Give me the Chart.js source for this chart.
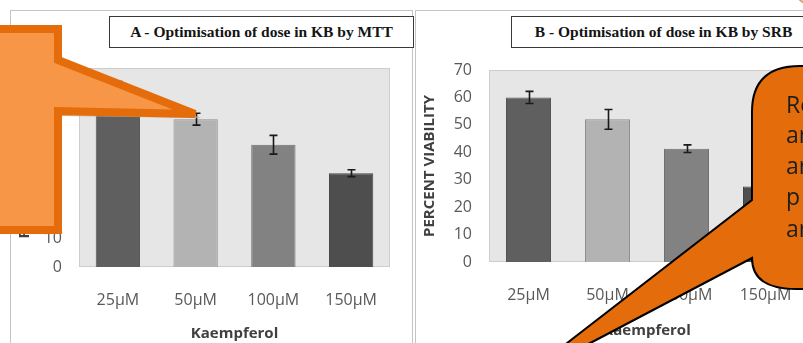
<!DOCTYPE html>
<html>
<head>
<meta charset="utf-8">
<script src="https://cdn.jsdelivr.net/npm/chart.js@4.4.1/dist/chart.umd.min.js"></script>
<style>
  html, body { margin: 0; padding: 0; background: #fff; overflow: hidden; }
  body { width: 803px; height: 343px; position: relative; }
  .panel { position: absolute; top: 10px; height: 340px; border-left: 1px solid #c4c4c4; border-top: 1px solid #c4c4c4; }
  .panel.a { left: 10px; width: 401px; border-right: 1px solid #c4c4c4; }
  .panel.b { left: 415px; width: 400px; }
  canvas { position: absolute; }
  .ttl { position: absolute; top: 16px; height: 32px; border: 1.5px solid #3a3a3a; background: #fff;
         font: bold 15.5px "Liberation Serif", "DejaVu Serif", serif; color: #141414;
         display: flex; align-items: center; justify-content: center; white-space: nowrap; box-sizing: border-box; }
  svg { position: absolute; left: 0; top: 0; }
</style>
</head>
<body>
<div class="panel a"></div>
<div class="panel b"></div>
<canvas id="chartA" width="400" height="332" style="left:11px; top:11px;"></canvas>
<canvas id="chartB" width="400" height="332" style="left:416px; top:11px;"></canvas>
<div class="ttl" style="left:109px; width:305px;">A - Optimisation of dose in KB by MTT</div>
<div class="ttl" style="left:511px; width:305px;">B - Optimisation of dose in KB by SRB</div>

<svg width="803" height="343" viewBox="0 0 803 343">
  <!-- callout arrow over panel A -->
  <path d="M -20 33 L 62 33 L 62 64 L 201 118 L 62 116 L 62 234 L -20 234 Z" fill="#c9a28c" opacity="0.8"/>
  <path d="M -20 29 L 58 29 L 58 60 L 195 114 L 58 111 L 58 230 L -20 230 Z" fill="#f79646" stroke="#e46c0a" stroke-width="8" stroke-linejoin="miter"/>
  <!-- speech bubble over panel B -->
  <path d="M 860 66 L 800 66 Q 752 66 752 112 L 752 200 L 518 381 L 752 258 Q 752 289 796 289 L 860 289 Z" fill="#e46c0a" stroke="#000" stroke-width="2"/>
  <g font-family="Open Sans, sans-serif" font-size="23" fill="#1e1e1e">
    <text x="786" y="113">Re</text>
    <text x="786" y="143">ar</text>
    <text x="786" y="174">ar</text>
    <text x="786" y="205">p</text>
    <text x="786" y="237">ar</text>
  </g>
  <!-- corner of another shape at the top right -->
  <ellipse cx="835" cy="-18" rx="44" ry="30" fill="#f6caa4" stroke="#d89a6a" stroke-width="1.5"/>
</svg>

<script>
// categories and values
const doses = ['25\u00B5M', '50\u00B5M', '100\u00B5M', '150\u00B5M'];
const mttViability = [62, 52, 43, 33];
const mttError = [3.2, 2.1, 3.3, 1.2];
const srbViability = [60, 52, 41.3, 27.5];
const srbError = [2.2, 3.6, 1.4, 1.5];
const barColors = ['#5f5f5f', '#b3b3b3', '#828282', '#4e4e4e'];
const barBorders = ['#555555', '#8f8f8f', '#707070', '#444444'];
const yMax = 70;
const yStep = 10;

// grey plot area behind the bars
const plotBg = {
    id: 'plotBg',
    beforeDraw(chart) {
        const {ctx, chartArea: a} = chart;
        ctx.save();
        ctx.fillStyle = '#e6e6e6';
        ctx.fillRect(a.left, a.top, a.right - a.left, a.bottom - a.top);
        ctx.strokeStyle = '#cdcdcd';
        ctx.lineWidth = 1;
        ctx.strokeRect(a.left + 0.5, a.top + 0.5, a.right - a.left - 1, a.bottom - a.top - 1);
        ctx.restore();
    }
};

// standard error bars
const errorBars = {
    id: 'errorBars',
    afterDatasetsDraw(chart) {
        const {ctx} = chart;
        const y = chart.scales.y;
        const errs = chart.options.plugins.errorBars.errors;
        const meta = chart.getDatasetMeta(0);
        ctx.save();
        ctx.strokeStyle = '#1a1a1a';
        ctx.lineWidth = 1.6;
        meta.data.forEach((bar, i) => {
            const v = chart.data.datasets[0].data[i];
            const top = y.getPixelForValue(v + errs[i]);
            const bot = y.getPixelForValue(v - errs[i]);
            const x = Math.round(bar.x) + 0.5;
            ctx.beginPath();
            ctx.moveTo(x, top); ctx.lineTo(x, bot);
            ctx.moveTo(x - 4, top); ctx.lineTo(x + 4, top);
            ctx.moveTo(x - 4, bot); ctx.lineTo(x + 4, bot);
            ctx.stroke();
        });
        ctx.restore();
    }
};

function makeChart(id, values, errors, lay) {
    return new Chart(document.getElementById(id), {
        type: 'bar',
        data: {
            labels: doses,
            datasets: [{
                data: values,
                backgroundColor: barColors,
                borderColor: barBorders,
                borderWidth: 1,
                categoryPercentage: 1,
                barPercentage: 0.57
            }]
        },
        options: {
            responsive: false,
            animation: false,
            layout: { padding: { top: lay.top, right: lay.right, left: 0, bottom: 0 } },
            plugins: {
                legend: { display: false },
                tooltip: { enabled: false },
                errorBars: { errors: errors }
            },
            scales: {
                x: {
                    grid: { display: false },
                    border: { display: false },
                    ticks: { color: '#595959', padding: 16, font: { family: 'Open Sans', size: 16 } },
                    title: { display: true, text: 'Kaempferol', color: '#404040',
                             padding: { top: 0, bottom: lay.xTitlePad },
                             font: { family: 'Open Sans', size: 15, weight: 'bold' } },
                    afterFit(s) { s.height = lay.xHeight; }
                },
                y: {
                    min: 0, max: yMax,
                    grid: { display: false },
                    border: { display: false },
                    ticks: { stepSize: yStep, color: '#595959', padding: 9, font: { family: 'Open Sans', size: 16 } },
                    title: { display: true, text: 'PERCENT VIABILITY', color: '#404040',
                             padding: { top: 5, bottom: 0 },
                             font: { family: 'Open Sans', size: 15, weight: 'bold' } },
                    afterFit(s) { s.width = lay.yWidth; }
                }
            }
        },
        plugins: [plotBg, errorBars]
    });
}

makeChart('chartA', mttViability, mttError, { top: 57, right: 21, yWidth: 68, xHeight: 76, xTitlePad: 0 });
makeChart('chartB', srbViability, srbError, { top: 59, right: 11, yWidth: 73, xHeight: 81, xTitlePad: 3 });
</script>
</body>
</html>
